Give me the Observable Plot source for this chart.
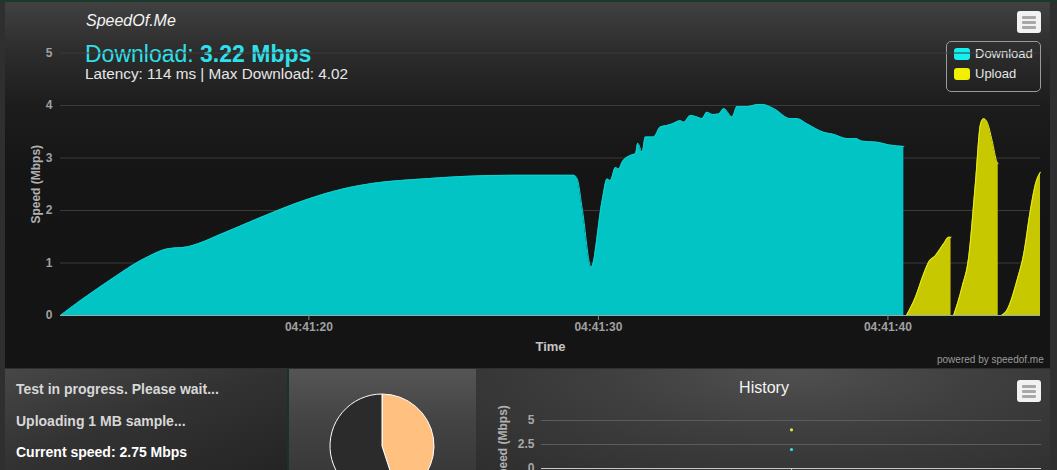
<!DOCTYPE html>
<html><head><meta charset="utf-8">
<script src="https://cdn.jsdelivr.net/npm/d3@7"></script>
<script src="https://cdn.jsdelivr.net/npm/@observablehq/plot@0.6"></script>
<style>
html,body{margin:0;padding:0;width:1057px;height:470px;overflow:hidden;background:#2f2f2f;font-family:"Liberation Sans",Arial,sans-serif;}
.abs{position:absolute;}
#topline{left:0;top:0;width:1057px;height:2px;background:#1b3a29;}
#main{left:5px;top:2px;width:1045px;height:366px;background:linear-gradient(to bottom,#414141 0px,#2e2e2e 45px,#1c1c1c 105px,#151515 170px,#141414 366px);}
#left{left:5px;top:369px;width:282px;height:101px;background:linear-gradient(160deg,#474747 0%,#333 45%,#242424 100%);}
#divider{left:287px;top:369px;width:2px;height:101px;background:#173526;}
#piep{left:289px;top:369px;width:187px;height:101px;background:linear-gradient(to bottom,#555 0%,#444 50%,#393939 100%);}
#hist{left:476px;top:369px;width:574px;height:101px;background:radial-gradient(ellipse at 55% 0%,#505050 0%,#3e3e3e 45%,#2e2e2e 100%);}
.menu{width:24px;height:22px;background:#f2f2f2;border-radius:3px;}
.menu i{position:absolute;left:5px;width:14px;height:3px;background:#a8a8a8;border-radius:1px;}
.txt{white-space:nowrap;}
</style></head><body>
<div id="topline" class="abs"></div>
<div id="main" class="abs"></div>
<div id="left" class="abs"></div>
<div id="divider" class="abs"></div>
<div id="piep" class="abs"></div>
<div id="hist" class="abs"></div>

<div class="abs txt" style="left:86px;top:10px;font-size:16px;font-style:italic;color:#f4f4f4;line-height:22px;">SpeedOf.Me</div>
<div class="abs txt" style="left:85px;top:40px;font-size:23px;color:#2fe0ea;line-height:28px;">Download: <b>3.22 Mbps</b></div>
<div class="abs txt" style="left:85px;top:65px;font-size:15.3px;color:#e6e6e6;line-height:18px;">Latency: 114 ms | Max Download: 4.02</div>

<div class="abs menu" style="left:1017px;top:11px;"><i style="top:5px"></i><i style="top:10px"></i><i style="top:15px"></i></div>
<div class="abs" style="left:946px;top:41px;width:93px;height:49px;border:1px solid #9a9a9a;border-radius:5px;"></div>
<div class="abs" style="left:954px;top:48px;width:16px;height:12px;background:#14f0f0;border-radius:3px;"></div>
<div class="abs txt" style="left:975px;top:46px;font-size:13px;color:#e4e4e4;line-height:16px;">Download</div>
<div class="abs" style="left:954px;top:68px;width:16px;height:12px;background:#f0f000;border-radius:3px;"></div>
<div class="abs txt" style="left:975px;top:66px;font-size:13px;color:#e4e4e4;line-height:16px;">Upload</div>
<div class="abs txt" style="left:937px;top:354px;font-size:10px;color:#9a9a9a;line-height:12px;">powered by speedof.me</div>

<div class="abs txt" style="left:16px;top:381px;font-size:14px;font-weight:bold;color:#d8d8d8;line-height:16px;">Test in progress. Please wait...</div>
<div class="abs txt" style="left:16px;top:413px;font-size:14px;font-weight:bold;color:#d8d8d8;line-height:16px;">Uploading 1 MB sample...</div>
<div class="abs txt" style="left:16px;top:444px;font-size:14px;font-weight:bold;color:#ffffff;line-height:16px;">Current speed: 2.75 Mbps</div>

<div class="abs txt" style="left:477px;top:378px;width:574px;text-align:center;font-size:16px;color:#f4f4f4;line-height:20px;">History</div>
<div class="abs menu" style="left:1017px;top:380px;"><i style="top:5px"></i><i style="top:10px"></i><i style="top:15px"></i></div>

<div id="mainplot" class="abs" style="left:5px;top:2px;"></div>
<div id="pieplot" class="abs" style="left:289px;top:369px;"></div>
<div id="histplot" class="abs" style="left:476px;top:369px;"></div>

<script>
// ---- data ----
const downloadSeconds = [11.42,12.86,14.52,15.12,15.83,16.19,17.02,18.21,19.99,21.18,22.25,23.92,25.34,27.13,29.15,29.27,29.45,29.75,30.13,30.30,30.41,30.59,30.70,30.82,31.11,31.28,31.36,31.51,31.62,31.91,32.14,32.37,32.55,32.83,32.95,33.18,33.41,33.58,33.75,33.93,34.16,34.33,34.62,34.79,35.14,35.54,35.65,36.06,36.63,36.86,37.21,37.78,38.13,38.59,38.88,39.11,39.63,40.03,40.55];
const downloadMbps    = [0,0.57,1.14,1.27,1.31,1.37,1.56,1.84,2.22,2.41,2.52,2.60,2.65,2.67,2.67,2.60,2.0,0.92,2.19,2.60,2.57,2.82,2.79,2.92,3.05,3.08,3.28,3.11,3.40,3.40,3.59,3.62,3.65,3.71,3.68,3.81,3.78,3.75,3.87,3.83,3.84,3.94,3.78,3.98,3.98,4.02,4.02,3.94,3.75,3.75,3.65,3.49,3.45,3.37,3.37,3.32,3.30,3.25,3.22];
const uploadSeconds = [40.64,40.95,41.24,41.41,41.64,41.93,42.10,42.18, 42.27,42.56,42.79,43.02,43.20,43.31,43.43,43.60,43.77,43.81, 43.92,44.12,44.46,44.69,44.92,45.10,45.27];
const uploadMbps    = [0,0.35,0.80,1.02,1.14,1.37,1.49,1.49, 0,0.54,1.11,2.51,3.65,3.75,3.68,3.33,2.92,2.89, 0,0.11,0.67,1.17,2.0,2.51,2.73];
const uploadSegment = [1,1,1,1,1,1,1,1, 2,2,2,2,2,2,2,2,2,2, 3,3,3,3,3,3,3];
const xDomainSeconds = [11.42, 45.27];
const xTickSeconds = [20, 30, 40];
const yTicks = [0, 1, 2, 3, 4, 5];
const historyTicks = [0, 2.5, 5];
const historyNames = ["Upload", "Download"];
const historyMbps = [4.03, 1.98];
const historyColors = ["#e6e640", "#2ee6d6"];
const pieLabels = ["Done", "Remaining"];
const pieValues = [45, 55];
const pieColors = ["#ffc080", "#2b2b2b"];

// ---- build ----
const t0 = new Date(2024, 0, 1, 4, 41, 0).getTime();
const toDate = s => new Date(t0 + Math.round(s * 1000));
const download = downloadSeconds.map((s, i) => ({t: toDate(s), v: downloadMbps[i]}));
const upload = uploadSeconds.map((s, i) => ({t: toDate(s), v: uploadMbps[i], seg: uploadSegment[i]}));
const font = "'Liberation Sans', Arial, sans-serif";

const main = Plot.plot({
  width: 1045, height: 366,
  marginLeft: 55, marginRight: 10, marginTop: 50.5, marginBottom: 53,
  style: {background: "transparent", fontFamily: font, overflow: "visible"},
  x: {type: "time", domain: xDomainSeconds.map(toDate)},
  y: {domain: [0, 5]},
  marks: [
    Plot.gridY(yTicks.filter(d => d > 0), {stroke: "#3a3a3a", strokeOpacity: 1}),
    Plot.areaY(download, {x: "t", y: "v", fill: "#03c4c4", curve: "monotone-x"}),
    Plot.lineY(download, {x: "t", y: "v", stroke: "#0bd2d2", strokeWidth: 1, curve: "monotone-x"}),
    Plot.areaY(upload, {x: "t", y: "v", z: "seg", fill: "#c8c800", curve: "monotone-x"}),
    Plot.lineY(upload, {x: "t", y: "v", z: "seg", stroke: "#ecec20", strokeWidth: 1, curve: "monotone-x"}),
    Plot.ruleY([0], {stroke: "#8fb0b0"}),
    Plot.axisY({ticks: yTicks, tickFormat: d => String(d), tickSize: 0, tickPadding: 8, fontWeight: "bold", fontSize: 12, fill: "#a0a0a0", label: null}),
    Plot.axisX({ticks: xTickSeconds.map(toDate), tickFormat: d3.timeFormat("%H:%M:%S"), tickSize: 5, tickPadding: 2,
      fontWeight: "bold", fontSize: 12, fill: "#a0a0a0", stroke: "#8a8a8a", label: null}),
    Plot.text(["Speed (Mbps)"], {text: d => d, frameAnchor: "left", textAnchor: "middle", dx: -24, rotate: -90, fontWeight: "bold", fontSize: 12, fill: "#b0b0b0"}),
    Plot.text(["Time"], {text: d => d, frameAnchor: "bottom", dy: 35, fontWeight: "bold", fontSize: 13, fill: "#c4c4c4"})
  ]
});
document.getElementById("mainplot").append(main);

// history chart
const histData = historyNames.map((n, i) => ({x: 0.5, v: historyMbps[i], c: historyColors[i]}));
const hist = Plot.plot({
  width: 574, height: 131,
  marginLeft: 65, marginRight: 9, marginTop: 51, marginBottom: 32,
  style: {background: "transparent", fontFamily: font, overflow: "visible"},
  x: {domain: [0, 1], axis: null},
  y: {domain: [0, 5]},
  marks: [
    Plot.gridY([2.5, 5], {stroke: "#5c5c5c", strokeOpacity: 1}),
    Plot.ruleY([0], {stroke: "#c8c8c8"}),
    Plot.ruleX([0.5], {y1: 0, y2: -0.25, stroke: "#c8c8c8"}),
    Plot.axisY({ticks: historyTicks, tickFormat: d => String(d), tickSize: 0, tickPadding: 7, fontWeight: "bold", fontSize: 12, fill: "#a8a8a8", label: null}),
    Plot.text(["Speed (Mbps)"], {text: d => d, frameAnchor: "left", textAnchor: "middle", dx: -38, rotate: -90, fontWeight: "bold", fontSize: 12, fill: "#b0b0b0"}),
    Plot.dot(histData, {x: "x", y: "v", fill: "c", r: 1.6})
  ]
});
document.getElementById("histplot").append(hist);

// pie
const pieSvg = d3.select("#pieplot").append("svg").attr("width", 187).attr("height", 101);
const arcs = d3.pie().sort(null)(pieValues);
const arc = d3.arc().innerRadius(0).outerRadius(52);
pieSvg.append("g").attr("transform", "translate(93,77)")
  .selectAll("path").data(arcs).join("path")
  .attr("d", arc).attr("fill", (d, i) => pieColors[i])
  .attr("stroke", "#ffffff").attr("stroke-width", 1);
</script>
</body></html>
